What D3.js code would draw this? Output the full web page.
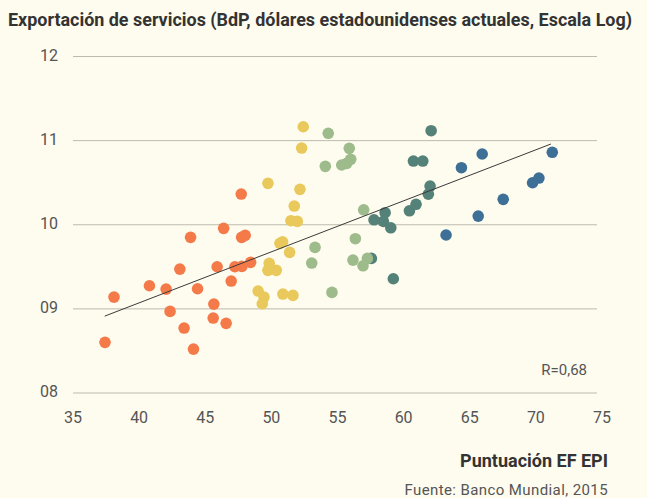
<!DOCTYPE html>
<html>
<head>
<meta charset="utf-8">
<script src="https://cdn.jsdelivr.net/npm/d3@7"></script>
<style>
  body { margin: 0; background: #fefcef; }
  text { font-family: Roboto, "DejaVu Sans", sans-serif; }
</style>
</head>
<body>
<script>
// puntos por grupo: [puntuación EF EPI, exportación de servicios (log)]
var naranja = [[47.72,10.365],[43.89,9.85],[46.39,9.957],[47.75,9.85],[48.02,9.874],
  [43.08,9.473],[45.90,9.501],[47.24,9.501],[47.77,9.505],[48.43,9.553],[40.78,9.275],
  [42.04,9.235],[44.42,9.239],[46.96,9.331],[38.10,9.140],[45.65,9.057],[42.34,8.970],
  [45.60,8.891],[46.58,8.828],[43.40,8.772],[37.42,8.602],[44.11,8.522]];
var amarillo = [[52.41,11.165],[52.29,10.912],[49.74,10.492],[52.16,10.421],[51.73,10.222],
  [51.48,10.048],[51.96,10.040],[50.65,9.779],[50.85,9.798],[51.38,9.672],[49.84,9.541],
  [49.74,9.458],[50.37,9.458],[49.00,9.212],[49.44,9.140],[49.31,9.061],[50.87,9.176],
  [51.63,9.160]];
var verde = [[54.30,11.087],[55.89,10.908],[56.00,10.778],[55.70,10.730],[55.32,10.710],
  [54.08,10.694],[56.98,10.178],[53.30,9.731],[56.35,9.834],[53.05,9.545],[56.17,9.580],
  [57.26,9.600],[56.93,9.512],[54.58,9.196]];
var azulVerde = [[62.08,11.118],[60.74,10.757],[61.45,10.757],[62.00,10.460],[61.87,10.363],
  [58.60,10.143],[57.76,10.059],[58.47,10.040],[59.03,9.964],[60.94,10.243],[60.44,10.166],
  [57.56,9.600],[59.22,9.358]];
var azul = [[65.94,10.841],[71.24,10.861],[64.37,10.678],[70.23,10.555],[69.75,10.499],
  [67.53,10.302],[65.64,10.103],[63.21,9.878]];
var tendencia = [[37.40,8.914],[71.14,10.960]];

var xTicks = [35, 40, 45, 50, 55, 60, 65, 70, 75];
var yTicks = [8, 9, 10, 11, 12];

// orden de dibujo: el verde queda encima del azul verdoso
var grupos = [
  { datos: naranja, color: "#f47a4a" },
  { datos: amarillo, color: "#e9c95b" },
  { datos: azulVerde, color: "#558278" },
  { datos: azul, color: "#3e7097" },
  { datos: verde, color: "#9dbb8b" }
];

var width = 647, height = 498;

var svg = d3.select("body").append("svg")
    .attr("width", width)
    .attr("height", height)
    .style("background", "#fefcef");

var x = d3.scaleLinear().domain([35, 75]).range([73, 602]);
var y = d3.scaleLinear().domain([8, 12]).range([393, 56.5]);

svg.append("text")
    .attr("x", 8)
    .attr("y", 26)
    .attr("font-size", 18)
    .attr("font-weight", "bold")
    .attr("fill", "#333")
    .attr("textLength", 624)
    .attr("lengthAdjust", "spacingAndGlyphs")
    .text("Exportación de servicios (BdP, dólares estadounidenses actuales, Escala Log)");

// rejilla horizontal
svg.append("g")
  .selectAll("line")
  .data(yTicks)
  .enter().append("line")
    .attr("x1", 73)
    .attr("x2", 597)
    .attr("y1", function(d) { return y(d); })
    .attr("y2", function(d) { return y(d); })
    .attr("stroke", "#bdbbae")
    .attr("stroke-width", 1);

svg.append("g")
  .selectAll("text")
  .data(yTicks)
  .enter().append("text")
    .attr("x", 58)
    .attr("y", function(d) { return y(d) + 4; })
    .attr("text-anchor", "end")
    .attr("font-size", 16)
    .attr("fill", "#555")
    .text(d3.format("02d"));

svg.append("g")
  .selectAll("text")
  .data(xTicks)
  .enter().append("text")
    .attr("x", function(d) { return x(d); })
    .attr("y", 423)
    .attr("text-anchor", "middle")
    .attr("font-size", 16)
    .attr("fill", "#555")
    .text(function(d) { return d; });

grupos.forEach(function(g) {
  svg.append("g")
    .selectAll("circle")
    .data(g.datos)
    .enter().append("circle")
      .attr("cx", function(d) { return x(d[0]); })
      .attr("cy", function(d) { return y(d[1]); })
      .attr("r", 5.8)
      .attr("fill", g.color);
});

svg.append("path")
    .datum(tendencia)
    .attr("d", d3.line()
      .x(function(d) { return x(d[0]); })
      .y(function(d) { return y(d[1]); }))
    .attr("fill", "none")
    .attr("stroke", "#3a3a3a")
    .attr("stroke-width", 1);

svg.append("text")
    .attr("x", 587)
    .attr("y", 375)
    .attr("text-anchor", "end")
    .attr("font-size", 15)
    .attr("fill", "#555")
    .text("R=0,68");

svg.append("text")
    .attr("x", 608)
    .attr("y", 467)
    .attr("text-anchor", "end")
    .attr("font-size", 18)
    .attr("font-weight", "bold")
    .attr("fill", "#333")
    .text("Puntuación EF EPI");

svg.append("text")
    .attr("x", 608)
    .attr("y", 495)
    .attr("text-anchor", "end")
    .attr("font-size", 15)
    .attr("letter-spacing", 0.4)
    .attr("fill", "#555")
    .text("Fuente: Banco Mundial, 2015");
</script>
</body>
</html>
